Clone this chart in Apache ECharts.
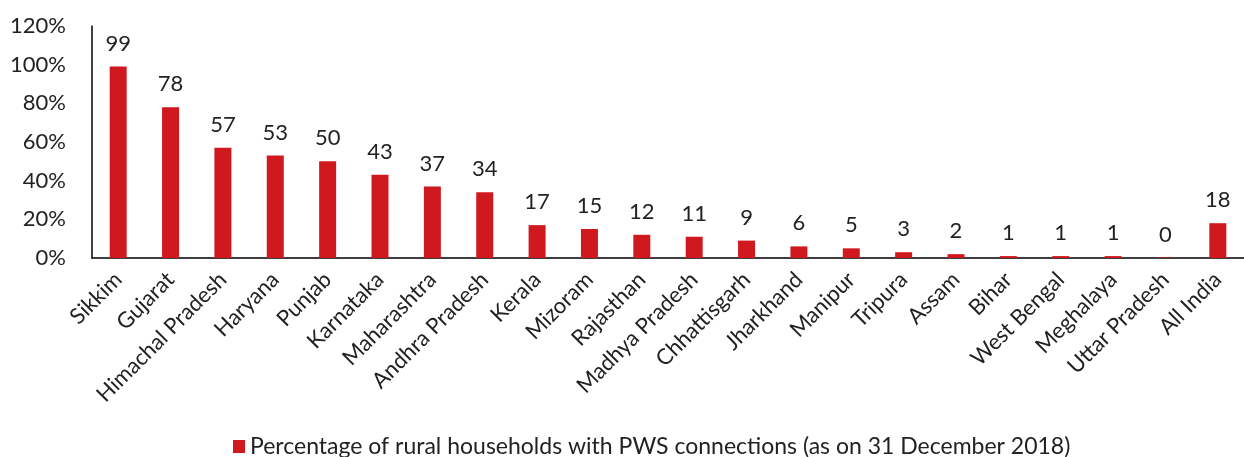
<!DOCTYPE html>
<html>
<head>
<meta charset="utf-8">
<script src="https://cdn.jsdelivr.net/npm/echarts@6/dist/echarts.min.js"></script>
<style>
  html, body { margin: 0; padding: 0; background: #fff; }
  #chart { width: 1244px; height: 457px; }
</style>
</head>
<body>
<div id="chart"></div>
<script>
// states, in the order shown
const states = ['Sikkim', 'Gujarat', 'Himachal Pradesh', 'Haryana', 'Punjab', 'Karnataka',
  'Maharashtra', 'Andhra Pradesh', 'Kerala', 'Mizoram', 'Rajasthan', 'Madhya Pradesh',
  'Chhattisgarh', 'Jharkhand', 'Manipur', 'Tripura', 'Assam', 'Bihar', 'West Bengal',
  'Meghalaya', 'Uttar Pradesh', 'All India'];
// % of rural households with PWS connections
const pwsShare = [99, 78, 57, 53, 50, 43, 37, 34, 17, 15, 12, 11, 9, 6, 5, 3, 2, 1, 1, 1, 0.3, 18];
const seriesName = 'Percentage of rural households with PWS connections (as on 31 December 2018)';

const font = 'Lato, "Open Sans", sans-serif';
const red = '#D0181F';

var myChart = echarts.init(document.getElementById('chart'));
var option = {
    animation: false,
    textStyle: { fontFamily: font },
    legend: {
        data: [seriesName],
        left: 228,
        top: 430,
        itemWidth: 12,
        itemHeight: 13,
        itemGap: 6,
        icon: 'rect',
        textStyle: { fontSize: 23, color: '#222', fontFamily: font }
    },
    grid: {
        left: 92,
        top: 26,
        width: 1164,
        height: 232
    },
    xAxis: {
        type: 'category',
        data: states,
        axisLine: { lineStyle: { color: '#000', width: 1.5 } },
        axisTick: { show: false },
        axisLabel: {
            interval: 0,
            rotate: 45,
            margin: 18,
            fontSize: 22,
            color: '#222',
            fontFamily: font
        }
    },
    yAxis: {
        type: 'value',
        min: 0,
        max: 120,
        interval: 20,
        splitLine: { show: false },
        axisLine: { show: true, lineStyle: { color: '#000', width: 1.5 } },
        axisTick: { show: false },
        axisLabel: {
            formatter: '{value}%',
            margin: 26,
            fontSize: 22,
            color: '#222',
            fontFamily: font
        }
    },
    series: [
        {
            name: seriesName,
            type: 'bar',
            data: pwsShare,
            barWidth: 17,
            itemStyle: { color: red },
            label: {
                show: true,
                position: 'top',
                distance: 12,
                fontSize: 22,
                color: '#222',
                fontFamily: font,
                formatter: function (p) { return Math.round(p.value); }
            }
        }
    ]
};
option && myChart.setOption(option);
</script>
</body>
</html>
